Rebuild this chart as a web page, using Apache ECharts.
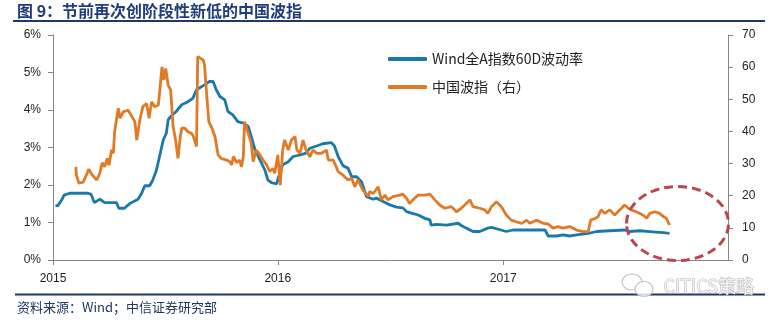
<!DOCTYPE html>
<html>
<head>
<meta charset="utf-8">
<script src="https://cdn.jsdelivr.net/npm/echarts@6/dist/echarts.min.js"></script>
<style>
  html, body { margin: 0; padding: 0; background: #fff; }
  #chart { width: 783px; height: 322px; }
</style>
</head>
<body>
<div id="chart"></div>
<script>
// Wind All-A 60-day volatility (%, left axis)
const volDates = [
  '2015-01-05','2015-01-09','2015-01-15','2015-01-19','2015-01-28','2015-02-27','2015-03-04','2015-03-09',
  '2015-03-18','2015-03-26','2015-04-14','2015-04-18','2015-04-27','2015-05-06','2015-05-19','2015-05-25',
  '2015-05-30','2015-06-07','2015-06-12','2015-06-18','2015-06-23','2015-06-29','2015-07-04','2015-07-07',
  '2015-07-12','2015-07-20','2015-07-29','2015-08-08','2015-08-16','2015-08-22','2015-09-04','2015-09-12',
  '2015-09-18','2015-09-23','2015-09-29','2015-10-07','2015-10-12','2015-10-20','2015-10-28','2015-11-06',
  '2015-11-14','2015-11-19','2015-11-25','2015-12-03','2015-12-11','2015-12-16','2015-12-22','2015-12-30',
  '2016-01-04','2016-01-09','2016-01-18','2016-01-26','2016-02-06','2016-02-16','2016-02-22','2016-03-04',
  '2016-03-14','2016-03-28','2016-04-02','2016-04-08','2016-04-16','2016-04-24','2016-04-30','2016-05-08',
  '2016-05-16','2016-05-24','2016-06-04','2016-06-09','2016-06-20','2016-07-01','2016-07-12','2016-07-22',
  '2016-07-28','2016-08-05','2016-08-16','2016-08-27','2016-09-04','2016-09-06','2016-09-15','2016-10-01',
  '2016-10-20','2016-10-25','2016-11-02','2016-11-13','2016-11-24','2016-12-07','2016-12-13','2016-12-24',
  '2017-01-06','2017-01-17','2017-02-08','2017-03-10','2017-03-15','2017-03-29','2017-04-08','2017-04-19',
  '2017-04-30','2017-05-19','2017-06-02','2017-06-23','2017-07-17','2017-07-25','2017-08-11','2017-09-01',
  '2017-09-18','2017-09-28'
];
const volValues = [
  1.45,1.45,1.60,1.73,1.78,1.78,1.75,1.53,
  1.62,1.53,1.53,1.38,1.38,1.51,1.62,1.78,
  1.98,1.98,2.13,2.40,2.76,3.20,3.38,3.74,
  3.84,3.96,4.14,4.22,4.31,4.54,4.67,4.76,
  4.76,4.54,4.36,4.27,3.96,3.87,3.69,3.65,
  3.56,3.29,2.94,2.67,2.40,2.13,2.06,2.03,
  2.31,2.54,2.62,2.76,2.80,2.85,2.98,3.04,
  3.10,3.13,3.04,2.76,2.51,2.45,2.22,2.22,
  2.09,1.69,1.62,1.65,1.56,1.47,1.41,1.39,
  1.29,1.25,1.20,1.11,1.07,0.93,0.95,0.93,
  0.98,0.92,0.85,0.76,0.76,0.85,0.87,0.82,
  0.76,0.80,0.80,0.80,0.64,0.64,0.67,0.64,
  0.67,0.71,0.76,0.78,0.80,0.76,0.78,0.75,
  0.73,0.71
];

// China volatility index iVIX (right axis)
const vixDates = [
  '2015-02-07','2015-02-08','2015-02-12','2015-02-19','2015-02-24','2015-02-28','2015-03-06','2015-03-13',
  '2015-03-18','2015-03-22','2015-03-26','2015-03-30','2015-04-02','2015-04-06','2015-04-09','2015-04-11',
  '2015-04-17','2015-04-20','2015-04-25','2015-05-03','2015-05-08','2015-05-14','2015-05-17','2015-05-22',
  '2015-05-27','2015-06-02','2015-06-06','2015-06-10','2015-06-15','2015-06-21','2015-06-23','2015-06-27',
  '2015-06-30','2015-07-03','2015-07-07','2015-07-11','2015-07-15','2015-07-19','2015-07-23','2015-07-26',
  '2015-07-29','2015-08-03','2015-08-08','2015-08-14','2015-08-17','2015-08-22','2015-08-24','2015-08-28',
  '2015-09-02','2015-09-04','2015-09-07','2015-09-11','2015-09-15','2015-09-21','2015-09-26','2015-10-01',
  '2015-10-10','2015-10-15','2015-10-18','2015-10-21','2015-10-26','2015-10-31','2015-11-03','2015-11-06',
  '2015-11-08','2015-11-14','2015-11-19','2015-11-22','2015-11-27','2015-12-03','2015-12-08','2015-12-14',
  '2015-12-19','2015-12-24','2015-12-27','2016-01-01','2016-01-05','2016-01-09','2016-01-12','2016-01-18',
  '2016-01-23','2016-01-29','2016-02-01','2016-02-06','2016-02-11','2016-02-16','2016-02-22','2016-02-27',
  '2016-03-04','2016-03-12','2016-03-20','2016-03-23','2016-03-31','2016-04-08','2016-04-16','2016-04-24',
  '2016-04-30','2016-05-05','2016-05-10','2016-05-18','2016-05-27','2016-05-29','2016-06-04','2016-06-12',
  '2016-06-17','2016-06-23','2016-06-28','2016-07-06','2016-07-17','2016-07-22','2016-07-28','2016-08-02',
  '2016-08-10','2016-08-16','2016-08-27','2016-09-04','2016-09-12','2016-09-20','2016-09-28','2016-10-09',
  '2016-10-17','2016-10-25','2016-11-02','2016-11-08','2016-11-13','2016-11-24','2016-12-02','2016-12-07',
  '2016-12-13','2016-12-21','2016-12-29','2017-01-06','2017-01-14','2017-01-22','2017-01-31','2017-02-08',
  '2017-02-13','2017-02-24','2017-03-07','2017-03-15','2017-03-23','2017-03-31','2017-04-08','2017-04-19',
  '2017-04-30','2017-05-11','2017-05-19','2017-05-23','2017-05-30','2017-06-04','2017-06-09','2017-06-15',
  '2017-06-23','2017-07-01','2017-07-12','2017-07-17','2017-07-23','2017-07-28','2017-08-05','2017-08-16',
  '2017-08-22','2017-08-27','2017-09-04','2017-09-12','2017-09-18','2017-09-23','2017-09-28'
];
const vixValues = [
  29.0,26.4,23.9,24.2,26.4,28.2,26.4,24.9,
  27.0,30.3,29.0,31.6,29.5,34.2,33.2,39.9,
  47.2,44.1,46.1,46.6,45.0,43.0,37.3,43.6,
  47.7,48.7,44.1,49.2,47.7,48.2,51.9,60.1,
  56.0,59.6,54.4,52.9,41.5,37.3,31.6,37.3,
  41.0,41.0,39.9,39.4,38.4,35.3,63.3,62.8,
  62.2,60.7,52.9,43.0,41.5,38.4,32.7,31.6,
  31.1,30.6,29.6,32.2,30.3,31.1,29.0,32.2,
  43.0,39.4,36.3,30.6,34.2,32.7,31.1,29.6,
  27.5,28.5,27.0,32.7,23.3,34.2,37.3,34.2,
  37.3,38.4,34.2,33.2,37.3,34.2,32.1,34.2,
  33.2,33.2,34.2,31.1,31.1,27.5,26.4,24.9,
  25.4,22.8,24.9,21.8,19.7,21.3,20.7,22.8,
  18.7,20.2,18.7,19.7,20.2,20.5,19.2,17.6,
  19.2,20.2,20.2,20.5,18.7,17.1,16.1,16.6,
  15.0,16.1,17.6,18.7,16.6,16.1,15.6,14.5,
  16.6,18.1,16.6,14.0,12.4,11.9,11.4,12.4,
  11.4,12.4,11.4,11.2,9.9,10.4,9.9,10.4,
  9.3,8.8,8.8,12.4,12.9,13.5,15.6,14.5,
  15.6,14.0,16.1,17.1,16.1,15.6,15.0,14.0,
  13.0,14.5,15.0,14.5,13.5,13.0,10.9
];

const seriesNames = ['Wind全A指数60D波动率', '中国波指（右）'];
const yearTicks = [2015, 2016, 2017];

const navy = '#1F3864';
const axisGray = '#868686';

// dates -> local timestamps for a continuous date axis
const toTime = s => { const p = s.split('-'); return new Date(+p[0], +p[1] - 1, +p[2]).getTime(); };
const yearStamps = yearTicks.map(y => new Date(y, 0, 1).getTime());

const chart = echarts.init(document.getElementById('chart'), null, { renderer: 'canvas' });

chart.setOption({
  animation: false,
  backgroundColor: '#fff',
  textStyle: { fontFamily: 'Liberation Sans, Arial, sans-serif' },
  grid: { left: 53, right: 55, top: 35, bottom: 62, containLabel: false },
  legend: {
    data: seriesNames,
    orient: 'vertical',
    left: 383,
    top: 47,
    itemWidth: 39,
    itemHeight: 4,
    itemGap: 14,
    icon: 'roundRect',
    textStyle: { fontSize: 14, color: '#222', fontFamily: 'Noto Sans CJK SC', lineHeight: 14 }
  },
  xAxis: {
    type: 'value',
    min: new Date(2015, 0, 1).getTime(),
    max: new Date(2018, 0, 1).getTime(),
    axisLine: { lineStyle: { color: axisGray, width: 1 } },
    axisTick: { show: true, length: 5, customValues: yearStamps, lineStyle: { color: axisGray } },
    axisLabel: {
      customValues: yearStamps,
      margin: 13,
      fontSize: 12,
      color: '#222',
      formatter: v => String(new Date(v).getFullYear())
    },
    splitLine: { show: false }
  },
  yAxis: [
    {
      type: 'value', min: 0, max: 6, interval: 1,
      axisLine: { show: true, lineStyle: { color: axisGray } },
      axisTick: { show: true, length: 5, lineStyle: { color: axisGray } },
      axisLabel: { formatter: '{value}%', fontSize: 12, color: '#222', margin: 12 },
      splitLine: { show: false }
    },
    {
      type: 'value', min: 0, max: 70, interval: 10, position: 'right',
      axisLine: { show: true, lineStyle: { color: axisGray } },
      axisTick: { show: true, length: 5, lineStyle: { color: axisGray } },
      axisLabel: { fontSize: 12, color: '#222', margin: 14 },
      splitLine: { show: false }
    }
  ],
  series: [
    {
      name: seriesNames[0],
      type: 'line',
      yAxisIndex: 0,
      data: volDates.map((d, i) => [toTime(d), volValues[i]]),
      symbol: 'none',
      color: '#1B79A9',
      lineStyle: { width: 2.8, color: '#1B79A9' },
      z: 2
    },
    {
      name: seriesNames[1],
      type: 'line',
      yAxisIndex: 1,
      data: vixDates.map((d, i) => [toTime(d), vixValues[i]]),
      symbol: 'none',
      color: '#E07A26',
      lineStyle: { width: 2.8, color: '#E07A26' },
      z: 3
    }
  ],
  graphic: [
    {
      type: 'text', left: 17, top: 3,
      style: {
        text: '图 9：节前再次创阶段性新低的中国波指',
        font: 'bold 16px "Noto Sans CJK SC"',
        fill: '#1F3D7A'
      }
    },
    {
      type: 'line',
      shape: { x1: 13, y1: 21, x2: 765, y2: 21 },
      style: { stroke: navy, lineWidth: 2 }
    },
    {
      type: 'line',
      shape: { x1: 15, y1: 294.5, x2: 765, y2: 294.5 },
      style: { stroke: navy, lineWidth: 2 }
    },
    {
      type: 'text', left: 17, top: 301,
      style: {
        text: '资料来源：Wind；中信证券研究部',
        font: '13px "Noto Sans CJK SC"',
        fill: '#203864'
      }
    },
    {
      type: 'ellipse',
      shape: { cx: 677.5, cy: 223.5, rx: 51, ry: 37 },
      style: { fill: 'none', stroke: '#B9474F', lineWidth: 3, lineDash: [9, 5] },
      z: 10
    },
    // watermark
    {
      type: 'ellipse',
      shape: { cx: 632, cy: 282, rx: 10, ry: 8 },
      style: { fill: 'rgba(255,255,255,0.6)', stroke: '#c4c4c4', lineWidth: 1.2 },
      z: 11
    },
    {
      type: 'ellipse',
      shape: { cx: 644, cy: 289, rx: 9, ry: 7.5 },
      style: { fill: 'rgba(255,255,255,0.8)', stroke: '#c4c4c4', lineWidth: 1.2 },
      z: 12
    },
    {
      type: 'text', left: 663, top: 277,
      style: {
        text: 'CITICS策略',
        font: '18px "Noto Sans CJK SC"',
        fill: '#f4f4f4',
        stroke: '#b4b4b4',
        lineWidth: 1
      },
      z: 12
    }
  ]
});
</script>
</body>
</html>
